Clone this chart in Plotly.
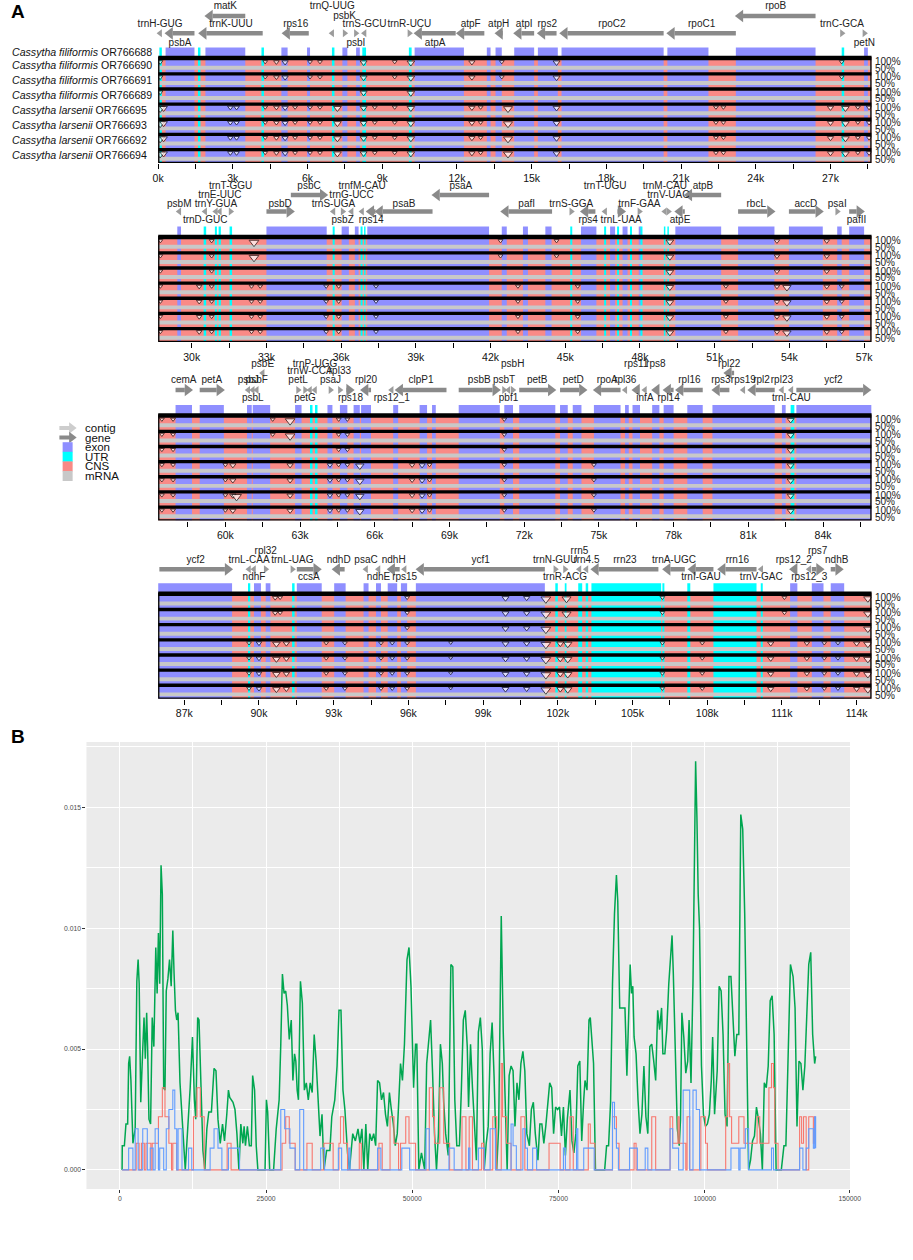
import plotly.graph_objects as go

FONT = "Liberation Sans, Arial, sans-serif"
W = 913          # reference width in px
H = 1240         # figure height (bottom of the reference below ~1215 is blank)

# ---------------- panel A : mVISTA alignment (positions in kb) ----------------
block_start = [0, 28.65, 57.3, 85.95]
block_len = 28.65

seq_species = ["Cassytha filiformis"] * 4 + ["Cassytha larsenii"] * 4
seq_acc = ["OR766688", "OR766690", "OR766691", "OR766689",
           "OR766695", "OR766693", "OR766692", "OR766694"]

gene_name = ["trnH-GUG", "psbA", "matK", "trnK-UUU", "rps16", "trnQ-UUG", "psbK", "psbI", "trnS-GCU", "trnR-UCU",
             "atpA", "atpF", "atpH", "atpI", "rps2", "rpoC2", "rpoC1", "rpoB", "trnC-GCA", "petN",
             "psbM", "trnD-GUC", "trnY-GUA", "trnE-UUC", "trnT-GGU", "psbD", "psbC", "trnS-UGA", "psbZ", "trnG-UCC",
             "trnfM-CAU", "rps14", "psaB", "psaA", "pafI", "trnS-GGA", "rps4", "trnT-UGU", "trnL-UAA", "trnF-GAA",
             "trnM-CAU", "trnV-UAC", "atpE", "atpB", "rbcL", "accD", "psaI", "pafII",
             "cemA", "petA", "psbJ", "psbL", "psbF", "psbE", "petL", "petG", "trnW-CCA", "trnP-UGG",
             "psaJ", "rpl33", "rps18", "rpl20", "rps12_1", "clpP1", "psbB", "psbT", "pbf1", "psbH",
             "petB", "petD", "rpoA", "rpl36", "rps11", "infA", "rps8", "rpl14", "rpl16", "rps3",
             "rpl22", "rps19", "rpl2", "rpl23", "trnI-CAU", "ycf2",
             "ycf2", "trnL-CAA", "ndhF", "rpl32", "trnL-UAG", "ccsA", "ndhD", "psaC", "ndhE", "ndhH",
             "rps15", "ycf1", "trnN-GUU", "trnR-ACG", "rrn5", "rrn4.5", "rrn23", "trnA-UGC", "trnI-GAU", "rrn16",
             "trnV-GAC", "rps12_2", "rps12_3", "rps7", "ndhB"]
gene_start = [0.04, 0.3, 1.9, 1.65, 5.0, 6.95, 7.45, 7.9, 8.25, 10.05,
              10.3, 12.0, 13.55, 14.3, 15.25, 16.15, 20.45, 23.2, 27.42, 28.32,
              29.46, 30.5, 30.93, 31.09, 31.52, 33.0, 33.98, 35.65, 36.02, 36.38,
              36.8, 37.03, 37.38, 39.67, 42.43, 45.2, 45.63, 46.56, 47.09, 47.9,
              48.96, 49.1, 49.42, 49.8, 51.94, 53.98, 55.88, 56.4,
              58.0, 58.97, 60.88, 61.06, 61.22, 61.46, 62.88, 63.16, 63.36, 63.56,
              64.18, 64.56, 64.9, 65.45, 66.64, 66.84, 69.37, 71.15, 71.33, 71.5,
              71.8, 73.44, 74.8, 76.02, 76.35, 76.81, 77.14, 77.6, 78.1, 79.56,
              80.04, 80.76, 81.0, 82.31, 82.69, 82.93,
              86.0, 89.56, 89.76, 90.23, 91.3, 91.52, 92.96, 94.26, 94.76, 95.17,
              95.81, 96.33, 101.86, 102.25, 102.83, 103.11, 103.35, 106.23, 107.25, 108.44,
              110.13, 111.33, 112.06, 112.2, 112.96]
gene_end = [0.12, 1.46, 3.5, 4.2, 6.05, 7.03, 7.53, 7.98, 8.33, 10.13,
            11.95, 13.1, 13.8, 15.1, 16.0, 20.3, 23.2, 26.4, 27.5, 28.4,
            29.54, 30.58, 31.01, 31.17, 31.6, 34.1, 35.44, 35.73, 36.1, 36.46,
            36.88, 37.38, 39.67, 41.94, 44.47, 45.28, 46.21, 46.64, 47.4, 48.05,
            49.04, 49.18, 49.8, 51.26, 53.4, 55.34, 55.96, 56.99,
            58.66, 59.94, 60.96, 61.14, 61.3, 61.54, 62.96, 63.24, 63.44, 63.64,
            64.26, 64.64, 65.15, 65.85, 66.72, 68.88, 71.02, 71.23, 71.41, 71.58,
            73.25, 74.5, 75.87, 76.1, 76.65, 76.89, 77.43, 78.0, 79.17, 80.24,
            80.43, 80.84, 82.06, 82.39, 82.77, 85.9,
            88.92, 89.64, 89.84, 90.31, 91.38, 92.48, 93.44, 94.34, 94.84, 95.65,
            95.89, 101.48, 101.94, 102.33, 102.91, 103.19, 106.04, 107.1, 108.25, 109.98,
            110.21, 111.62, 112.14, 112.67, 113.44]
gene_dir = [-1, -1, -1, -1, -1, -1, 1, 1, -1, 1,
            -1, -1, -1, -1, -1, -1, -1, -1, 1, 1,
            -1, -1, -1, -1, 1, 1, 1, -1, 1, -1,
            -1, -1, -1, -1, -1, 1, -1, -1, 1, 1,
            -1, 1, -1, -1, 1, 1, 1, 1,
            1, 1, -1, -1, -1, -1, 1, 1, -1, -1,
            1, 1, 1, -1, -1, -1, 1, 1, -1, 1,
            1, 1, -1, -1, -1, -1, -1, -1, -1, -1,
            -1, -1, -1, -1, -1, 1,
            1, -1, -1, 1, 1, 1, -1, -1, -1, -1,
            -1, -1, 1, 1, -1, -1, -1, -1, -1, -1,
            -1, -1, -1, 1, 1]
gene_row = ["L", "L", "U", "L", "L", "L", "L", "L", "L", "L",
            "L", "L", "L", "L", "L", "L", "L", "U", "L", "L",
            "L", "L", "L", "L", "L", "L", "U", "L", "L", "L",
            "L", "L", "L", "U", "L", "L", "L", "L", "L", "L",
            "L", "L", "L", "U", "L", "L", "L", "L",
            "L", "L", "L", "L", "L", "U", "L", "L", "L", "L",
            "L", "L", "L", "L", "L", "L", "L", "L", "L", "L",
            "L", "L", "L", "L", "L", "L", "L", "L", "L", "L",
            "U", "L", "L", "L", "L", "L",
            "L", "L", "L", "L", "L", "L", "L", "L", "L", "L",
            "L", "L", "L", "L", "L", "L", "L", "L", "L", "L",
            "L", "L", "L", "L", "L"]
gene_lab = [2, 3, 0, 2, 2, 0, 1, 3, 2, 2,
            3, 2, 2, 2, 2, 2, 2, 0, 2, 3,
            2, 3, 2, 1, 0, 2, 0, 2, 3, 1,
            0, 3, 2, 0, 2, 2, 3, 0, 3, 2,
            0, 1, 3, 0, 2, 2, 2, 3,
            2, 2, 2, 3, 2, 0, 2, 3, 1, 0,
            2, 1, 3, 2, 3, 2, 2, 2, 3, 0,
            2, 2, 2, 2, 0, 3, 0, 3, 2, 2,
            0, 2, 2, 2, 3, 2,
            2, 2, 3, 0, 2, 3, 2, 2, 3, 2,
            3, 2, 2, 3, 0, 2, 2, 2, 3, 2,
            3, 2, 3, 0, 2]

exon_start = [0.3, 1.9, 4.95, 5.98, 7.4, 7.95, 10.3, 13.2, 13.55, 14.3, 15.25, 16.2, 20.45, 23.2, 28.35,
              29.42, 33.0, 36.02, 36.55, 37.05, 42.45, 43.3, 44.2, 45.63, 46.8, 47.3, 47.95, 49.42, 51.94,
              53.98, 55.92, 56.4,
              58.0, 58.97, 60.87, 61.1, 62.8, 64.1, 64.6, 65.15, 65.45, 66.74, 67.8, 68.3, 69.37, 71.2,
              71.8, 73.44, 73.95, 74.8, 76.05, 76.35, 77.14, 77.6, 78.55, 79.56, 82.35, 82.93,
              85.95, 89.8, 90.27, 91.52, 93.02, 94.2, 94.7, 95.17, 95.7, 96.3, 111.33, 112.2, 112.96]
exon_end = [1.46, 3.5, 5.2, 6.1, 7.6, 8.1, 12.28, 13.35, 13.8, 15.1, 16.05, 20.3, 22.1, 26.4, 28.5,
            29.57, 35.42, 36.31, 36.7, 41.94, 42.65, 43.5, 44.45, 46.25, 47.0, 47.5, 48.05, 51.26, 53.4,
            55.34, 56.1, 57.0,
            58.66, 59.94, 61.06, 61.8, 63.06, 64.3, 64.9, 65.4, 65.85, 66.94, 68.1, 68.45, 71.02, 71.55,
            73.25, 73.75, 74.3, 75.87, 76.2, 76.65, 77.43, 78.0, 79.17, 82.06, 82.5, 85.95,
            88.92, 90.08, 90.46, 92.52, 93.48, 94.4, 94.9, 95.55, 95.95, 101.48, 111.62, 112.67, 113.5]

utr_start = [0.05, 1.6, 4.15, 6.98, 8.2, 10.07, 27.45,
             30.48, 30.93, 31.08, 31.52, 35.66, 36.78, 36.92, 45.2, 46.56, 47.08, 47.6, 48.02, 48.96, 49.1,
             63.4, 63.6, 82.7,
             89.56, 91.33, 101.9, 102.28, 102.82, 103.12, 103.35, 106.2, 107.2, 108.25, 110.15]
utr_end = [0.15, 1.7, 4.25, 7.08, 8.35, 10.18, 27.55,
           30.58, 31.01, 31.17, 31.62, 35.74, 36.86, 36.98, 45.28, 46.64, 47.16, 47.68, 48.1, 49.02, 49.16,
           63.5, 63.7, 82.85,
           89.65, 91.43, 102.0, 102.35, 102.98, 103.22, 106.15, 106.28, 107.32, 109.98, 110.23]

# conservation dips: position (kb), depth (0-1), tracks showing it (0 = OR766690 ... 6 = OR766694)
dip_kb = [0.08, 0.08, 0.22, 2.9, 3.15, 4.3, 4.75, 5.1, 5.5, 6.1, 6.5, 7.2, 8.25, 8.7, 9.5, 10.15,
          12.6, 12.95, 13.8, 14.05, 16.0, 22.4, 22.7, 27.0, 27.45, 27.6, 28.1, 28.55,
          28.74, 30.3, 30.8, 32.5, 32.4, 32.75, 35.4, 35.9, 37.4, 42.4, 43.1, 44.65, 45.5, 49.2,
          51.45, 53.5, 53.9, 55.5, 56.1,
          57.45, 57.9, 60.0, 60.3, 60.45, 61.9, 62.6, 62.6, 64.2, 64.55, 64.9, 65.4, 67.5, 67.9,
          68.2, 71.2, 74.8, 82.7,
          89.6, 90.0, 90.65, 90.85, 90.7, 91.1, 92.7, 93.45, 94.9, 95.35, 95.95, 97.7, 99.9, 100.75,
          101.52, 102.1, 102.35, 102.4, 106.2, 107.8, 110.55, 111.1, 112.0, 112.7, 113.25, 114.0, 114.45]
dip_depth = [0.4, 0.9, 0.7, 0.4, 0.4, 0.3, 0.4, 0.5, 0.3, 0.3, 0.3, 0.7, 0.6, 0.3, 0.3, 0.7,
             0.5, 0.3, 0.3, 0.9, 0.6, 0.3, 0.3, 0.5, 0.3, 0.7, 0.3, 0.4,
             0.3, 0.4, 0.3, 1.0, 0.3, 0.3, 0.3, 0.3, 0.3, 0.3, 0.3, 0.3, 0.3, 0.7,
             0.3, 0.4, 0.8, 0.4, 0.3,
             0.3, 0.3, 0.3, 0.5, 1.0, 0.3, 1.0, 0.5, 0.4, 0.3, 0.3, 0.8, 0.4, 0.5,
             0.3, 0.3, 0.3, 0.6,
             0.3, 0.4, 0.4, 0.3, 0.7, 0.5, 0.3, 0.3, 0.3, 0.3, 0.3, 0.2, 0.6, 0.5,
             1.0, 0.6, 0.9, 0.8, 0.3, 0.3, 0.5, 0.3, 0.4, 0.3, 0.3, 0.5, 0.8]
dip_tracks = ["012", "3456", "3456", "3456", "3456", "013456", "013456", "013456", "3456", "013456",
              "013456", "3456", "0123456", "3456", "013456", "0123456",
              "013456", "3456", "01", "3456", "013456", "3456", "3456", "3456", "01", "3456", "3456", "3456",
              "0123456", "3456", "0123456", "01", "3456", "3456", "3456", "3456", "3456", "01", "3456", "01",
              "3456", "0123456", "3456", "0123456", "3456", "0123456", "3456",
              "0123456", "0123456", "3456", "3456", "5", "01", "01", "3456", "3456", "0123456", "0123456",
              "3456", "3456", "3456", "3456", "0123456", "3456", "0123456",
              "3456", "3456", "01", "01", "3456", "3456", "3456", "3456", "3456", "3456", "0123456", "3456",
              "0123456", "0123456", "0123456", "3456", "01", "3456", "013456", "3456", "3456", "01", "3456",
              "3456", "3456", "3456", "0123456"]

legend_names = ["contig", "gene", "exon", "UTR", "CNS", "mRNA"]

# ---------------- panel B : sliding-window diversity ----------------
green_x = [390, 420, 780, 1050, 1340, 1510, 1680, 1900, 2240, 2630,
           2910, 3130, 3310, 3580, 3920, 4140, 4360, 4590, 4750, 4980,
           5260, 5540, 5820, 6150, 6380, 6600, 6820, 7050, 7270, 7500,
           7720, 7940, 8220, 8500, 8780, 9060, 9280, 9510, 9730, 9960,
           10290, 10740, 11190, 11630, 12030, 12420, 12750, 12980, 13310, 13540,
           13870, 14210, 14540, 14880, 15210, 15660, 16110, 16440, 16780, 17170,
           17560, 17900, 18290, 18570, 18790, 19020, 19350, 19690, 20020, 20360,
           20690, 21030, 21250, 21480, 21810, 22150, 22480, 22710, 23040, 23320,
           23600, 24050, 24830, 25060, 25280, 25620, 26290, 26740, 27240, 27520,
           27800, 28080, 28360, 28640, 28970, 29310, 29590, 29870, 30090, 30320,
           30540, 30880, 31210, 31550, 31880, 32220, 32550, 32890, 33230, 33560,
           33900, 34230, 34570, 34900, 35350, 35910, 36240, 36750, 37140, 37470,
           37810, 38150, 38480, 38930, 39260, 39820, 40270, 40720, 41050, 41390,
           41720, 42060, 42390, 42730, 43070, 43400, 43740, 44070, 44410, 44740,
           45080, 45420, 45750, 46090, 46420, 46760, 47090, 47430, 47990, 48320,
           48660, 49100, 49440, 49780, 50220, 50560, 50780, 51120, 51570, 52120,
           52460, 52800, 53130, 53470, 53800, 54140, 54470, 54810, 55140, 55370,
           55700, 56150, 56600, 56930, 57270, 57610, 58060, 58390, 58730, 59060,
           59400, 59620, 59960, 60290, 60630, 60960, 61300, 61640, 61970, 62310,
           62640, 62980, 63310, 63650, 63980, 64430, 64770, 64990, 65210, 65550,
           65890, 66220, 66560, 66890, 67230, 67560, 67900, 68230, 68570, 68910,
           69240, 69580, 70020, 70360, 70700, 71030, 71480, 71810, 72150, 72490,
           72820, 73160, 73490, 73830, 74160, 74500, 74830, 75170, 75510, 75840,
           76180, 76510, 76960, 77300, 77630, 77970, 78300, 78640, 78970, 79310,
           79530, 79870, 80210, 80430, 80650, 80990, 81320, 82890, 83220, 83560,
           83900, 84230, 84570, 84900, 85130, 85460, 86360, 86690, 87030, 87250,
           87480, 87700, 87920, 88260, 88590, 88930, 89260, 89600, 89940, 90270,
           90610, 90940, 91280, 91610, 91950, 92280, 92620, 92840, 93180, 93510,
           93850, 94190, 94410, 94630, 94970, 95310, 95640, 95860, 96090, 96420,
           96760, 97090, 97320, 97650, 97990, 98210, 98440, 98660, 98880, 99110,
           99440, 99780, 100120, 100450, 100790, 101120, 101350, 101680, 102130, 102460,
           102800, 103130, 103470, 103810, 104140, 104480, 104810, 105150, 105480, 105820,
           106160, 106490, 106830, 107160, 107500, 107830, 108170, 108500, 108840, 109180,
           109510, 109850, 110180, 110520, 110850, 111190, 111520, 111860, 112200, 113090,
           113540, 113870, 114210, 114650, 115100, 115440, 115770, 116110, 116440, 116780,
           117110, 117450, 117780, 118120, 118450, 118790, 118960]
green_y = [0, .0010, .0010, .0019, .0019, .0044, .0047, .0037, .0011, .0017,
           .0078, .0087, .0077, .0028, .0050, .0063, .0046, .0065, .0051, .0021,
           .0019, .0063, .0051, .0092, .0073, .0098, .0077, .0126, .0114, .0034,
           .0033, .0074, .0079, .0087, .0076, .0099, .0081, .0066, .0062, .0065,
           .0036, .0018, 0, .0018, .0034, .0055, .0029, .0021, .0063, .0062,
           .0032, .0008, 0, .0017, .0024, .0024, .0042, .0041, .0021, .0011,
           .0019, .0012, .0023, .0033, .0030, .0029, .0028, .0025, .0015, 0,
           .0019, .0011, .0018, .0010, .0018, .0010, .0010, .0039, .0033, .0010,
           0, 0, 0, .0029, .0024, 0, 0, .0017, .0029, .0052,
           .0081, .0073, .0074, .0068, .0054, .0062, .0037, .0048, .0045, .0033,
           .0029, .0078, .0069, .0033, .0036, .0029, .0036, .0032, .0056, .0045,
           .0029, .0014, .0023, 0, .0008, .0008, .0022, .0029, .0043, .0066,
           .0066, .0033, .0025, .0007, 0, .0015, .0012, .0017, .0011, .0017,
           0, .0019, 0, .0015, .0012, .0015, .0010, .0037, .0036, .0029,
           .0032, .0023, .0018, .0032, .0025, .0019, .0010, .0015, .0044, .0037,
           .0052, .0087, .0092, .0076, .0034, .0052, .0052, 0, .0007, 0,
           .0044, .0054, .0062, .0040, .0015, 0, .0015, .0052, .0044, .0028,
           .0015, .0006, .0085, .0084, .0029, .0010, .0010, .0033, .0062, .0066,
           .0051, .0026, .0052, .0034, .0019, .0004, .0057, .0063, .0050, 0,
           .0011, .0018, .0048, .0061, .0039, 0, .0018, .0052, .0105, .0057,
           .0029, 0, .0039, .0043, .0041, .0018, .0036, .0029, .0044, .0049,
           .0041, .0015, .0010, .0025, .0028, .0015, .0004, .0019, .0019, .0011,
           .0018, .0026, .0036, .0034, .0015, .0026, .0025, .0026, .0014, .0026,
           .0006, .0021, .0033, .0012, .0007, .0015, .0043, .0045, .0012, .0029,
           .0037, .0033, .0062, .0063, .0055, .0044, 0, 0, .0010, .0010,
           .0028, .0077, .0106, .0122, .0111, .0067, .0067, .0039, .0067, .0085,
           .0073, .0076, .0055, .0048, .0029, .0015, .0023, .0043, .0022, .0015,
           .0051, .0052, .0045, .0037, .0066, .0058, .0067, .0048, .0048, .0058,
           .0077, .0091, .0097, .0081, .0048, .0017, .0010, .0021, .0065, .0055,
           .0040, .0045, .0062, .0036, .0078, .0118, .0169, .0146, .0114, .0100,
           .0043, .0023, .0018, .0019, .0023, .0037, .0055, .0023, .0041, .0076,
           .0074, .0056, .0023, .0018, .0080, .0080, .0063, .0047, .0056, .0056,
           .0147, .0141, .0106, .0043, 0, .0004, .0012, .0014, .0026, .0021,
           .0015, 0, .0036, .0034, .0043, .0070, .0072, .0056, 0, 0,
           .0010, .0010, .0043, .0085, .0080, .0067, .0018, .0045, .0044, .0033,
           .0043, .0069, .0085, .0090, .0056, .0044, .0047]

red_x = [390, 2800, 3300, 3690, 4190, 4470, 5310, 5540, 6600, 7270, 7720, 8390, 8840, 9060, 9730,
         12580, 13200, 13760, 14430, 18350, 19020, 27740, 28360, 28970, 29980, 31990, 32890, 34900,
         36470, 37470, 37700, 38260, 38930, 40940, 41280, 44300, 44860, 46200, 46870, 47650, 47990,
         48880, 49440, 50560, 52910, 53470, 53800, 54700, 55370, 56380, 58500, 59170, 59730, 60290,
         61860, 62190, 63760, 64430, 65210, 65440, 66110, 66890, 68570, 69240, 73380, 75280, 76960,
         77520, 80090, 80430, 81210, 84230, 84900, 85350, 87920, 88260, 90940, 91610, 94070, 94520,
         95420, 95640, 96760, 96980, 97430, 99330, 100120, 100450, 103580, 103920, 104250, 104590,
         105820, 106710, 108950, 109400, 110970, 111410, 111750, 111970, 112530, 116220, 116560,
         116890, 117340, 117780, 118570, 118790, 118960]
red_y = [0, .0011, 0, .0011, 0, .0011, 0, .0011, .0022, .0034, .0022, .0011, 0, .0011, 0,
         .0022, .0034, .0022, 0, .0011, 0, .0011, .0022, .0011, 0, .0011, 0, .0011,
         0, .0011, .0022, .0011, 0, .0011, 0, .0011, 0, .0022, .0011, 0, .0011,
         .0022, .0011, 0, .0034, .0022, .0011, .0034, .0011, 0, .0022, 0, .0022, 0,
         .0011, 0, .0022, 0, .0044, .0022, .0011, 0, .0022, 0, .0011, 0, .0022,
         0, .0019, .0011, 0, .0022, .0011, 0, .0011, 0, .0022, 0, .0022, .0011,
         .0022, .0011, 0, .0022, 0, .0022, .0011, 0, .0022, .0044, .0022, .0011,
         .0022, .0011, .0022, .0011, .0034, .0044, .0034, .0011, 0, .0022, .0011,
         .0022, 0, .0022, .0011, .0022, .0022]

blue_x = [390, 1510, 2240, 2630, 3130, 3920, 4700, 5200, 5700, 6040, 6600, 6820, 7500, 7940, 8390,
          9060, 9400, 9730, 9960, 10630, 11750, 12300, 15440, 16110, 16780, 17450, 18570, 20470,
          27520, 28190, 29080, 29980, 30760, 31430, 34340, 35010, 37360, 37920, 39150, 39370, 44070,
          44630, 48210, 49550, 52350, 52910, 56270, 57160, 59620, 59850, 61300, 62310, 63310, 64210,
          66890, 67230, 67790, 68910, 69350, 69690, 70580, 71260, 75840, 76180, 78080, 78300, 79310,
          81100, 84230, 84570, 84900, 85240, 87140, 88480, 89820, 90270, 94070, 94520, 95530, 96310,
          97430, 97990, 98550, 99110, 104480, 105820, 106040, 106940, 107500, 111410, 111750, 116220,
          116780, 117340, 117780, 118570, 118790, 118960]
blue_y = [0, .0009, 0, .0017, 0, .0017, 0, .0009, 0, .0017, 0, .0009, 0, .0017, .0025,
          .0033, .0017, 0, .0017, 0, .0009, 0, .0009, .0017, .0009, 0, .0009, 0,
          .0025, .0017, .0009, 0, .0025, 0, .0009, 0, .0009, 0, .0009, 0, .0009,
          0, .0009, 0, .0017, 0, .0009, 0, .0009, 0, .0009, 0, .0017, 0,
          .0019, .0010, 0, .0017, .0009, 0, .0009, 0, .0009, 0, .0017, 0, .0009,
          0, .0028, .0017, .0009, 0, .0009, 0, .0009, 0, .0017, .0009, 0, .0033,
          0, .0033, .0025, 0, .0009, 0, .0009, .0017, 0, .0009, 0, .0009,
          0, .0009, .0017, .0009, .0022, .0009]

# ---------------- styling / layout constants ----------------
C_EXON, C_UTR, C_CNS, C_MRNA = "#8f8fff", "#00ffff", "#f98a86", "#c8c8c8"
C_GENE, C_CONTIG = "#8a8a8a", "#cdcdcd"

track_top = [57, 236, 414.5, 592.7]
pitch = 15.15
n_tracks = 7
block_top = [0, 180, 357, 544]
arrow_y = {"U": [16, 195, 373, 373], "L": [33.3, 211.5, 390, 569.3]}
label_y = [[6.5, 16, 24.5, 43], [186.5, 195.5, 204, 220], [364, 371.5, 380, 398], [551.5, 560, 560, 577]]

fig = go.Figure()


def ax(kind, i):
    return (kind if i == 1 else f"{kind}{i}")


def rects(intervals, y0, y1):
    xs, ys = [], []
    for a, b in intervals:
        xs += [a, b, b, a, a, None]
        ys += [y0, y0, y1, y1, y0, None]
    return xs, ys


def poly(xs, ys, color, i):
    fig.add_trace(go.Scatter(x=xs, y=ys, mode="lines", fill="toself", fillcolor=color,
                             line=dict(width=0, color=color), hoverinfo="skip", showlegend=False,
                             xaxis=ax("x", i), yaxis=ax("y", i)))


layout_axes = {}
annotations = []

for b in range(4):
    i = b + 1
    s = block_start[b]
    e = s + block_len
    top0 = track_top[b]
    bottom = top0 + n_tracks * pitch
    inb = lambda a: s - 0.001 <= a < e
    exons = [(max(a, s), min(c, e)) for a, c in zip(exon_start, exon_end) if inb(a)]
    utrs = [(max(a, s), min(c, e)) for a, c in zip(utr_start, utr_end) if inb(a)]

    # tracks
    for intervals, col in [([(s, e)], C_CNS), (exons, C_EXON), (utrs, C_UTR)]:
        xs, ys = [], []
        for t in range(n_tracks):
            y0 = top0 + t * pitch
            px, py = rects(intervals, y0, y0 + pitch)
            xs += px
            ys += py
        poly(xs, ys, col, i)
    for f0, f1, col in [(0.58, 0.84, C_MRNA), (0.0, 0.22, "#000000")]:
        xs, ys = [], []
        for t in range(n_tracks):
            y0 = top0 + t * pitch
            px, py = rects([(s, e)], y0 + f0 * pitch, y0 + f1 * pitch)
            xs += px
            ys += py
        poly(xs, ys, col, i)

    # reference annotation strip
    xs, ys = rects(exons, top0 - 9.5, top0 - 0.5)
    poly(xs, ys, C_EXON, i)
    xs, ys = rects(utrs, top0 - 9.5, top0 - 0.5)
    poly(xs, ys, C_UTR, i)

    # dips
    dx, dy, ds = [], [], []
    for k, d, tr in zip(dip_kb, dip_depth, dip_tracks):
        if not inb(k):
            continue
        for t in tr:
            size = 2.5 + 6 * d
            dx.append(k)
            dy.append(top0 + int(t) * pitch + 3.0 + size * 0.4)
            ds.append(size)
    fig.add_trace(go.Scatter(x=dx, y=dy, mode="markers", hoverinfo="skip", showlegend=False,
                             marker=dict(symbol="triangle-down", size=ds, color="white",
                                         line=dict(color="black", width=0.9)),
                             xaxis=ax("x", i), yaxis=ax("y", i)))

    # frame
    fig.add_trace(go.Scatter(x=[s, e, e, s, s], y=[top0, top0, bottom, bottom, top0], mode="lines",
                             line=dict(color="black", width=2.6), hoverinfo="skip", showlegend=False,
                             cliponaxis=False, xaxis=ax("x", i), yaxis=ax("y", i)))

    # genes
    sx, sy = [], []
    heads = {1: ([], []), -1: ([], [])}
    tiny = {1: ([], []), -1: ([], [])}
    lx, ly, lt = [], [], []
    hl = 0.36
    for n, a, c, d, r, lab in zip(gene_name, gene_start, gene_end, gene_dir, gene_row, gene_lab):
        if not inb(a):
            continue
        y = arrow_y[r][b]
        if c - a < 0.25:
            tiny[d][0].append((a + c) / 2)
            tiny[d][1].append(y)
        else:
            if d < 0:
                sx += [a + hl * 0.8, c, None]
                heads[d][0].append(a + hl / 2)
            else:
                sx += [a, c - hl * 0.8, None]
                heads[d][0].append(c - hl / 2)
            sy += [y, y, None]
            heads[d][1].append(y)
        lx.append((a + c) / 2)
        ly.append(label_y[b][lab])
        lt.append(n)
    fig.add_trace(go.Scatter(x=sx, y=sy, mode="lines", line=dict(color=C_GENE, width=4.5),
                             hoverinfo="skip", showlegend=False, xaxis=ax("x", i), yaxis=ax("y", i)))
    for d, sym in [(1, "triangle-right"), (-1, "triangle-left")]:
        fig.add_trace(go.Scatter(x=heads[d][0], y=heads[d][1], mode="markers",
                                 marker=dict(symbol=sym, size=11, color=C_GENE, line=dict(width=0)),
                                 hoverinfo="skip", showlegend=False, cliponaxis=False,
                                 xaxis=ax("x", i), yaxis=ax("y", i)))
        fig.add_trace(go.Scatter(x=tiny[d][0], y=tiny[d][1], mode="markers",
                                 marker=dict(symbol=sym, size=7, color="#9c9c9c", line=dict(width=0)),
                                 hoverinfo="skip", showlegend=False, cliponaxis=False,
                                 xaxis=ax("x", i), yaxis=ax("y", i)))
    fig.add_trace(go.Scatter(x=lx, y=ly, mode="text", text=lt, textposition="middle center",
                             textfont=dict(family=FONT, size=10, color="#222222"),
                             hoverinfo="skip", showlegend=False, cliponaxis=False,
                             xaxis=ax("x", i), yaxis=ax("y", i)))

    # 100% / 50% labels right of each track (paper x, so they are not hidden outside the range)
    for t in range(n_tracks):
        y0 = top0 + t * pitch
        for txt, dy_ in [("100%", 4.8), ("50%", 11.6)]:
            annotations.append(dict(x=883.5 / W, xref="paper", y=y0 + dy_, yref=ax("y", i),
                                    xanchor="left", yanchor="middle", text=txt, showarrow=False,
                                    font=dict(family=FONT, size=10, color="#222222")))

    ticks = [v for v in range(0, 116, 3) if s - 0.001 <= v <= e]
    layout_axes[ax("xaxis", i)] = dict(
        domain=[155 / W, 882 / W], range=[s, e], anchor=ax("y", i),
        tickmode="array", tickvals=ticks, ticktext=[f"{v}k" for v in ticks],
        ticks="outside", ticklen=5, tickwidth=1.4, tickcolor="black",
        minor=dict(tickmode="linear", tick0=0, dtick=1.5, ticks="outside", ticklen=5,
                   tickwidth=1.4, tickcolor="black"),
        showgrid=False, zeroline=False, showline=False,
        tickfont=dict(family=FONT, size=10.5, color="#111111"))
    layout_axes[ax("yaxis", i)] = dict(
        domain=[1 - bottom / H, 1 - block_top[b] / H], range=[bottom, block_top[b]],
        visible=False, anchor=ax("x", i))

# species labels (row 0 = reference annotation strip)
for k, (sp, acc) in enumerate(zip(seq_species, seq_acc)):
    y = track_top[0] - 5 if k == 0 else track_top[0] + (k - 0.5) * pitch
    annotations.append(dict(x=4 / W, xref="paper", y=y, yref="y", xanchor="left", yanchor="middle",
                            text=f"<i>{sp}</i> {acc}", showarrow=False,
                            font=dict(family=FONT, size=10.6, color="#111111")))

# legend of panel A (axis 6)
leg_y = [428, 437.6, 447.2, 456.8, 466.4, 476]
for k, (name, col) in enumerate(zip(legend_names[:2], [C_CONTIG, C_GENE])):
    fig.add_trace(go.Scatter(x=[0.1, 0.55], y=[leg_y[k]] * 2, mode="lines", line=dict(color=col, width=4),
                             hoverinfo="skip", showlegend=False, xaxis="x6", yaxis="y6"))
    fig.add_trace(go.Scatter(x=[0.62], y=[leg_y[k]], mode="markers",
                             marker=dict(symbol="triangle-right", size=10, color=col),
                             hoverinfo="skip", showlegend=False, cliponaxis=False, xaxis="x6", yaxis="y6"))
fig.add_trace(go.Scatter(x=[0.45] * 4, y=leg_y[2:], mode="markers",
                         marker=dict(symbol="square", size=10, color=[C_EXON, C_UTR, C_CNS, C_MRNA]),
                         hoverinfo="skip", showlegend=False, cliponaxis=False, xaxis="x6", yaxis="y6"))
for k, name in enumerate(legend_names):
    annotations.append(dict(x=78 / W, xref="paper", y=leg_y[k], yref="y6", xanchor="left",
                            yanchor="middle", text=name, showarrow=False,
                            font=dict(family=FONT, size=11.5, color="#111111")))
layout_axes["xaxis6"] = dict(domain=[52 / W, 76 / W], range=[0, 1], visible=False, anchor="y6")
layout_axes["yaxis6"] = dict(domain=[1 - 482 / H, 1 - 422 / H], range=[482, 422], visible=False, anchor="x6")

# ---------------- panel B traces ----------------
fig.add_trace(go.Scatter(x=green_x, y=green_y, mode="lines", line=dict(color="#00a650", width=1.5),
                         hoverinfo="skip", showlegend=False, xaxis="x5", yaxis="y5"))
fig.add_trace(go.Scatter(x=red_x, y=red_y, mode="lines", line=dict(color="#f8766d", width=1.1, shape="hv"),
                         hoverinfo="skip", showlegend=False, xaxis="x5", yaxis="y5"))
fig.add_trace(go.Scatter(x=blue_x, y=blue_y, mode="lines", line=dict(color="#619cff", width=1.1, shape="hv"),
                         hoverinfo="skip", showlegend=False, xaxis="x5", yaxis="y5"))

b_xticks = [0, 25000, 50000, 75000, 100000, 124800]
b_xtext = ["0", "25000", "50000", "75000", "100000", "150000"]
b_yticks = [0, 0.005, 0.010, 0.015]
b_ytext = ["0.000", "0.005", "0.010", "0.015"]
tickfont_b = dict(family=FONT, size=6.8, color="#4d4d4d")
layout_axes["xaxis5"] = dict(
    domain=[82 / W, 860 / W], range=[-5700, 124830], anchor="y5",
    tickmode="array", tickvals=b_xticks, ticktext=b_xtext,
    ticks="outside", ticklen=3, tickwidth=0.8, tickcolor="#333333", tickfont=tickfont_b,
    showgrid=True, gridcolor="white", gridwidth=1.1, zeroline=False, showline=False,
    minor=dict(tickmode="linear", tick0=0, dtick=12500, showgrid=True, gridcolor="white", gridwidth=0.5))
layout_axes["yaxis5"] = dict(
    domain=[1 - 1189 / H, 1 - 742 / H], range=[-0.00079, 0.0177], anchor="x5",
    tickmode="array", tickvals=b_yticks, ticktext=b_ytext,
    ticks="outside", ticklen=3, tickwidth=0.8, tickcolor="#333333", tickfont=tickfont_b,
    showgrid=True, gridcolor="white", gridwidth=1.1, zeroline=False, showline=False,
    minor=dict(tickmode="linear", tick0=0, dtick=0.0025, showgrid=True, gridcolor="white", gridwidth=0.5))

annotations += [
    dict(x=3 / W, y=1 - 12 / H, xref="paper", yref="paper", text="<b>A</b>", showarrow=False,
         xanchor="left", yanchor="middle", font=dict(family=FONT, size=19, color="black")),
    dict(x=3 / W, y=1 - 736 / H, xref="paper", yref="paper", text="<b>B</b>", showarrow=False,
         xanchor="left", yanchor="middle", font=dict(family=FONT, size=19, color="black")),
]

fig.update_layout(
    width=W, height=H, margin=dict(l=0, r=0, t=0, b=0), autosize=False,
    paper_bgcolor="white", plot_bgcolor="white", showlegend=False,
    font=dict(family=FONT),
    annotations=annotations,
    shapes=[dict(type="rect", xref="x5 domain", yref="y5 domain", x0=0, x1=1, y0=0, y1=1,
                 fillcolor="#ebebeb", line=dict(width=0), layer="below")],
    **layout_axes,
)

# the page body has a default 8px margin; remove it so the figure fills the window exactly
fig.write_html("out.html", config={"displayModeBar": False, "responsive": False},
               post_script="document.body.style.margin='0px';document.body.style.overflow='hidden';")
